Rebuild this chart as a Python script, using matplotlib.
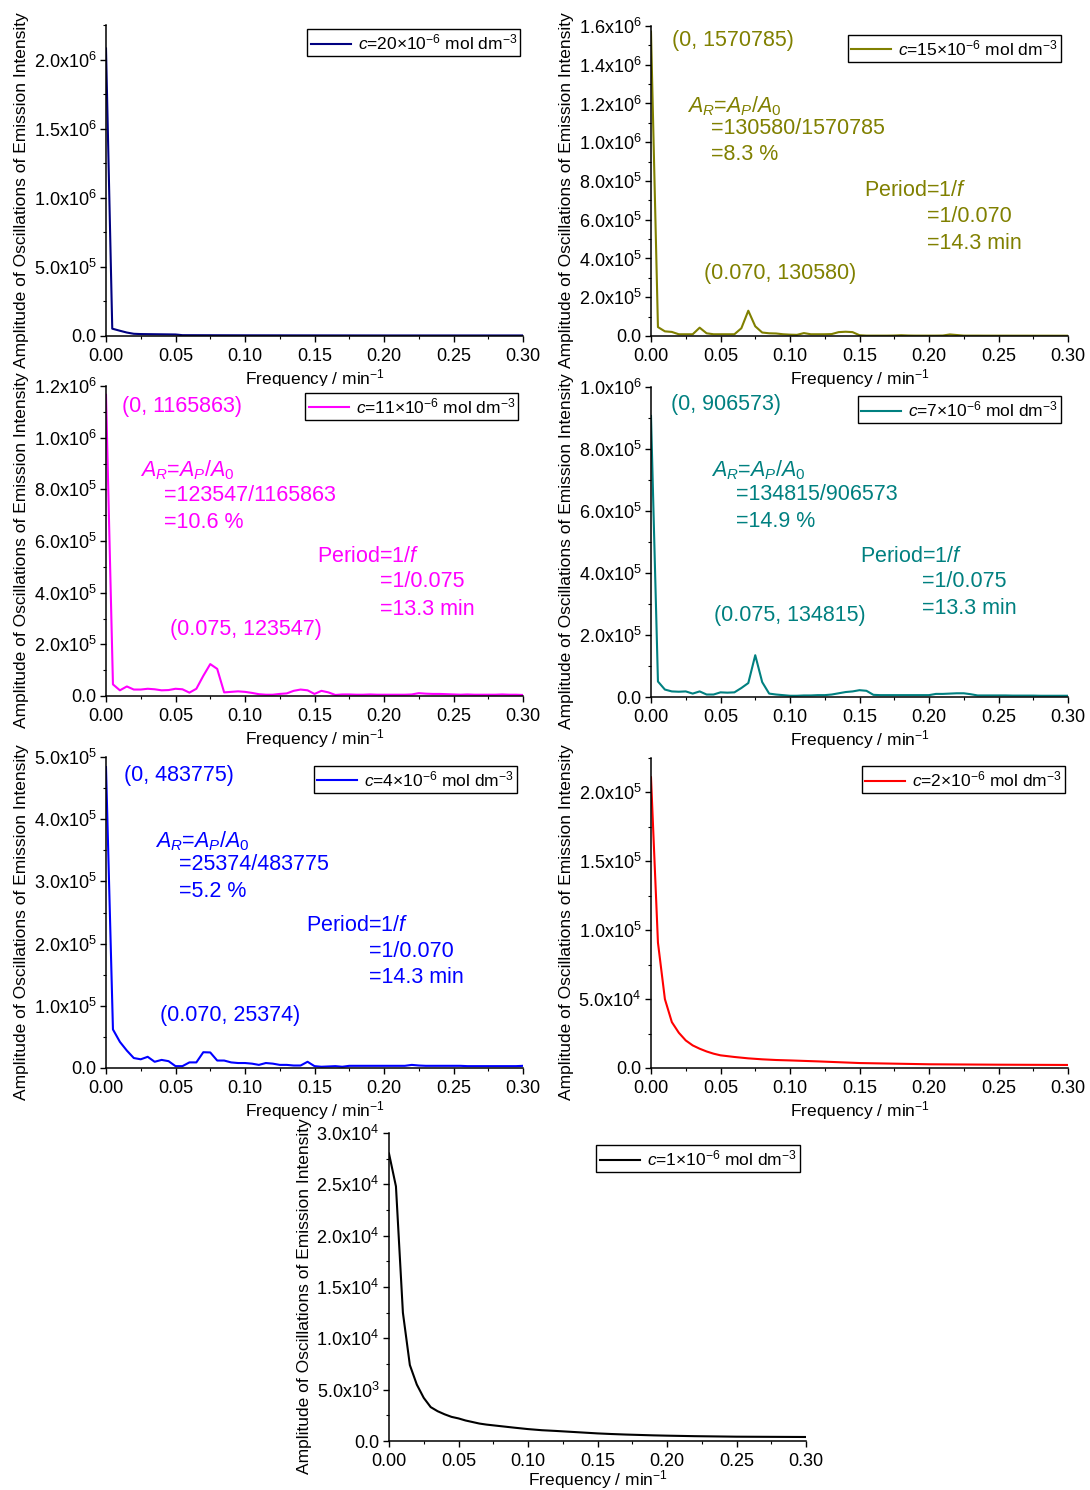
import numpy as np
import matplotlib
matplotlib.use("Agg")
import matplotlib.pyplot as plt
from matplotlib.ticker import MultipleLocator, FuncFormatter

plt.rcParams["font.family"] = ["Liberation Sans", "DejaVu Sans"]
plt.rcParams["mathtext.fontset"] = "custom"
plt.rcParams["mathtext.rm"] = "Liberation Sans"
plt.rcParams["mathtext.it"] = "Liberation Sans:italic"
plt.rcParams["mathtext.bf"] = "Liberation Sans:bold"

# common frequency grid (min^-1) of the oscillating spectra
freq = [0.000, 0.005, 0.010, 0.015, 0.020, 0.025, 0.030, 0.035, 0.040, 0.045,
        0.050, 0.055, 0.060, 0.065, 0.070, 0.075, 0.080, 0.085, 0.090, 0.095,
        0.100, 0.105, 0.110, 0.115, 0.120, 0.125, 0.130, 0.135, 0.140, 0.145,
        0.150, 0.155, 0.160, 0.165, 0.170, 0.175, 0.180, 0.185, 0.190, 0.195,
        0.200, 0.205, 0.210, 0.215, 0.220, 0.225, 0.230, 0.235, 0.240, 0.245,
        0.250, 0.255, 0.260, 0.265, 0.270, 0.275, 0.280, 0.285, 0.290, 0.295,
        0.300]

amp_15 = [1570785, 46000, 24000, 21000, 9000, 9000, 9000, 43000, 14000, 9000,
          9000, 9000, 9000, 40000, 130580, 50000, 18000, 14000, 13000, 9000,
          7000, 6000, 15000, 9000, 9000, 9000, 10000, 20000, 22000, 20000,
          4000, 2000, 2000, 2000, 2000, 2500, 4000, 2500, 2000, 2000,
          2000, 2000, 2500, 8000, 5000, 2000, 2000, 2000, 1800, 1800,
          1800, 1800, 1700, 1700, 1700, 1600, 1600, 1600, 1500, 1500,
          1500]

amp_11 = [1165863, 45000, 22000, 37000, 25000, 25000, 28000, 26000, 22000, 23000,
          28000, 26000, 13000, 28000, 78000, 123547, 105000, 14000, 16000, 18000,
          16000, 12000, 7000, 5000, 5000, 8000, 10000, 20000, 25000, 22000,
          8000, 20000, 14000, 4000, 6000, 6000, 5000, 5000, 6000, 5000,
          5000, 5000, 5000, 5000, 6000, 11000, 9000, 8000, 8000, 7000,
          6000, 5000, 6000, 5000, 5000, 5000, 5000, 6000, 5000, 5000,
          4000]

amp_7 = [906573, 50000, 24000, 18000, 17000, 18000, 11000, 18000, 8000, 8000,
         15000, 14000, 15000, 29000, 45000, 134815, 48000, 11000, 8000, 6000,
         4000, 4000, 5000, 5000, 6000, 6000, 8000, 12000, 16000, 18000,
         22000, 20000, 7000, 6000, 6000, 6000, 6000, 6000, 6000, 6000,
         6000, 10000, 10000, 11000, 12000, 12000, 9000, 5000, 5000, 5000,
         5000, 5000, 4500, 4500, 4500, 4500, 4000, 4000, 4000, 4000,
         4000]

amp_4 = [483775, 62000, 42000, 28000, 16000, 14000, 18000, 10000, 13000, 11000,
         3000, 3000, 9000, 9000, 25374, 25000, 12000, 12000, 9000, 8000,
         8000, 7000, 5000, 8000, 7000, 5000, 5000, 4000, 4000, 10000,
         3000, 2000, 2500, 3000, 2000, 3500, 3500, 3500, 3500, 3500,
         3500, 3500, 3500, 3500, 5000, 4000, 3500, 3500, 3500, 3500,
         3500, 3500, 3000, 3000, 3000, 3000, 3000, 3000, 3000, 3000,
         3500]

# smooth decays, read at fewer points
freq_20 = [0.0, 0.0045, 0.010, 0.015, 0.020, 0.025, 0.050, 0.055, 0.10, 0.15, 0.20, 0.25, 0.30]
amp_20 = [2080000, 53000, 38000, 25000, 16000, 14000, 11000, 6000, 5000, 4500, 4000, 4000, 4000]

freq_2 = [0.0, 0.005, 0.010, 0.015, 0.020, 0.025, 0.030, 0.035, 0.040, 0.045, 0.050,
          0.060, 0.070, 0.080, 0.090, 0.100, 0.120, 0.150, 0.200, 0.250, 0.300]
amp_2 = [211000, 91000, 50000, 33300, 25600, 20000, 16400, 14000, 12000, 10400, 9200,
         8000, 7000, 6300, 5800, 5500, 4800, 3600, 2700, 2400, 2200]

freq_1 = [0.0, 0.005, 0.010, 0.015, 0.020, 0.025, 0.030, 0.035, 0.040, 0.045, 0.050,
          0.055, 0.060, 0.065, 0.070, 0.080, 0.090, 0.100, 0.110, 0.120, 0.130,
          0.140, 0.150, 0.160, 0.170, 0.180, 0.190, 0.200, 0.220, 0.250, 0.300]
amp_1 = [28000, 24800, 12500, 7400, 5500, 4200, 3300, 2900, 2600, 2350, 2200,
         2000, 1850, 1700, 1600, 1450, 1300, 1160, 1050, 980, 900,
         820, 740, 680, 630, 590, 550, 520, 470, 420, 390]

legend_20 = r"$c$=20$\times$10$^{-6}$ mol dm$^{-3}$"
legend_15 = r"$c$=15$\times$10$^{-6}$ mol dm$^{-3}$"
legend_11 = r"$c$=11$\times$10$^{-6}$ mol dm$^{-3}$"
legend_7 = r"$c$=7$\times$10$^{-6}$ mol dm$^{-3}$"
legend_4 = r"$c$=4$\times$10$^{-6}$ mol dm$^{-3}$"
legend_2 = r"$c$=2$\times$10$^{-6}$ mol dm$^{-3}$"
legend_1 = r"$c$=1$\times$10$^{-6}$ mol dm$^{-3}$"

AR = r"$A_R$=$A_P$/$A_\mathit{0}$"
PER = r"Period=1/$f$"

FIG_W, FIG_H = 1090, 1490


def sci_fmt(v, pos):
    if abs(v) < 1e-9:
        return "0.0"
    exp = int(np.floor(np.log10(abs(v)) + 1e-9))
    return f"{v / 10 ** exp:.1f}x10$^{{{exp}}}$"


def panel(fig, box, x, y, color, label, ytop, ymaj, leg_anchor, notes=(), xlab_y=-0.1):
    left, top, right, bottom = box
    ax = fig.add_axes([left / FIG_W, 1 - bottom / FIG_H,
                       (right - left) / FIG_W, (bottom - top) / FIG_H])
    ax.plot(x, y, color=color, lw=1.5, label=label)
    ax.set_xlim(0, 0.30)
    ax.set_ylim(0, ytop)
    ax.xaxis.set_major_locator(MultipleLocator(0.05))
    ax.xaxis.set_minor_locator(MultipleLocator(0.025))
    ax.xaxis.set_major_formatter(FuncFormatter(lambda v, p: f"{v:.2f}"))
    ax.yaxis.set_major_locator(MultipleLocator(ymaj))
    ax.yaxis.set_minor_locator(MultipleLocator(ymaj / 2))
    ax.yaxis.set_major_formatter(FuncFormatter(sci_fmt))
    for s in ("top", "right"):
        ax.spines[s].set_visible(False)
    for s in ("left", "bottom"):
        ax.spines[s].set_linewidth(1.1)
    ax.tick_params(which="major", direction="out", length=4, width=1, labelsize=13)
    ax.tick_params(axis="x", which="major", pad=4.5)
    ax.tick_params(axis="y", which="major", pad=3)
    ax.tick_params(which="minor", direction="out", length=2.5, width=0.8)
    ax.set_xlabel(r"Frequency / min$^{-1}$", fontsize=12.5)
    ax.set_ylabel("Amplitude of Oscillations of Emission Intensity", fontsize=12.5)
    ax.xaxis.set_label_coords(0.5, xlab_y)
    ax.yaxis.set_label_coords(-0.185, 0.47)
    leg = ax.legend(loc="upper right", bbox_to_anchor=leg_anchor, borderaxespad=0,
                    fontsize=12.5, frameon=True, fancybox=False, framealpha=1,
                    edgecolor="black", handlelength=2.3, handletextpad=0.4,
                    borderpad=0.2)
    leg.get_frame().set_linewidth(1.0)
    for tx, ty, t in notes:
        ax.text(tx, ty, t, transform=ax.transAxes, color=color, fontsize=15.5,
                ha="left", va="center")
    return ax


fig = plt.figure(figsize=(FIG_W / 100, FIG_H / 100), dpi=100)

panel(fig, (106, 25, 523, 336), freq_20, amp_20, "#000080", legend_20,
      2.25e6, 5e5, (0.994, 0.986))

panel(fig, (651, 26, 1068, 336), freq, amp_15, "#808000", legend_15,
      1.6e6, 2e5, (0.983, 0.972),
      [(0.050, 0.954, "(0, 1570785)"),
       (0.086, 0.741, AR),
       (0.144, 0.669, "=130580/1570785"),
       (0.144, 0.585, "=8.3 %"),
       (0.511, 0.470, PER),
       (0.661, 0.384, "=1/0.070"),
       (0.661, 0.298, "=14.3 min"),
       (0.128, 0.203, "(0.070, 130580)")])

panel(fig, (106, 386, 523, 696), freq, amp_11, "#FF00FF", legend_11,
      1.2e6, 2e5, (0.989, 0.978),
      [(0.039, 0.933, "(0, 1165863)"),
       (0.081, 0.729, AR),
       (0.140, 0.648, "=123547/1165863"),
       (0.140, 0.560, "=10.6 %"),
       (0.506, 0.449, PER),
       (0.656, 0.369, "=1/0.075"),
       (0.656, 0.280, "=13.3 min"),
       (0.154, 0.213, "(0.075, 123547)")])

panel(fig, (651, 387, 1068, 697), freq, amp_7, "#008080", legend_7,
      1.0e6, 2e5, (0.984, 0.970),
      [(0.048, 0.943, "(0, 906573)"),
       (0.144, 0.733, AR),
       (0.204, 0.653, "=134815/906573"),
       (0.204, 0.566, "=14.9 %"),
       (0.500, 0.454, PER),
       (0.650, 0.373, "=1/0.075"),
       (0.650, 0.287, "=13.3 min"),
       (0.152, 0.262, "(0.075, 134815)")])

panel(fig, (106, 757, 523, 1068), freq, amp_4, "#0000FF", legend_4,
      5e5, 1e5, (0.986, 0.972),
      [(0.044, 0.942, "(0, 483775)"),
       (0.117, 0.728, AR),
       (0.175, 0.653, "=25374/483775"),
       (0.175, 0.567, "=5.2 %"),
       (0.479, 0.457, PER),
       (0.631, 0.374, "=1/0.070"),
       (0.631, 0.290, "=14.3 min"),
       (0.129, 0.170, "(0.070, 25374)")])

panel(fig, (651, 758, 1068, 1068), freq_2, amp_2, "#FF0000", legend_2,
      2.25e5, 5e4, (0.994, 0.973))

panel(fig, (389, 1133, 806, 1441), freq_1, amp_1, "#000000", legend_1,
      3e4, 5e3, (0.985, 0.960), xlab_y=-0.088)

fig.savefig("out.png", dpi=100)
plt.close(fig)
